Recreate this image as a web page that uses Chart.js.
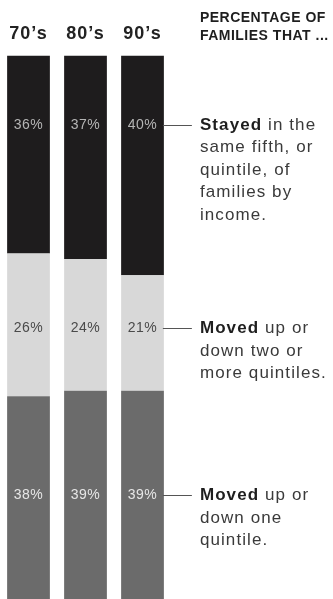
<!DOCTYPE html>
<html>
<head>
<meta charset="utf-8">
<script src="https://cdn.jsdelivr.net/npm/chart.js@4"></script>
<style>
  html, body { margin: 0; padding: 0; background: #fff; overflow: hidden; }
  #wrap { position: relative; width: 333px; height: 605px; }
</style>
</head>
<body>
<div id="wrap"><canvas id="mobilityChart"></canvas></div>
<script>
// decades (x axis)
const decades = ["70’s", "80’s", "90’s"];

// percentage of families, bottom segment first
const movedOne = [38, 39, 39];   // moved up or down one quintile
const movedTwo = [26, 24, 21];   // moved up or down two or more quintiles
const stayed = [36, 37, 40];     // stayed in the same quintile

// notes next to the bars (first word bold)
const noteLead = ["Moved", "Moved", "Stayed"];
const noteLines = [
    [" up or", "down one", "quintile."],
    [" up or", "down two or", "more quintiles."],
    [" in the", "same fifth, or", "quintile, of", "families by", "income."],
];
const header = ["PERCENTAGE OF", "FAMILIES THAT ..."];

// where the % labels and the note lines sit, in axis units (0 = bottom, 100 = top)
const labelLevels = [20, 50.4, 87.4];
const labelColors = ["#e6e6e6", "#4a4a4a", "#b5b5b5"];

const annotate = {
    id: "annotate",
    beforeDraw(chart) {
        // loose newsprint tracking for the axis labels
        chart.ctx.letterSpacing = "1px";
    },
    afterDatasetsDraw(chart) {
        const ctx = chart.ctx;
        const y = chart.scales.y;
        ctx.save();
        let textX = 0;
        chart.data.datasets.forEach((ds, i) => {
            const meta = chart.getDatasetMeta(i);
            const yPos = y.getPixelForValue(labelLevels[i]);
            // percent labels inside the bars
            ctx.letterSpacing = "0.5px";
            ctx.font = "14px 'Liberation Sans', Arial, sans-serif";
            ctx.fillStyle = labelColors[i];
            ctx.textAlign = "center";
            ctx.textBaseline = "middle";
            meta.data.forEach((bar, j) => {
                ctx.fillText(ds.data[j] + "%", bar.x, yPos);
            });
            // leader line
            const last = meta.data[meta.data.length - 1];
            const x0 = last.x + last.width / 2 - 1;
            ctx.strokeStyle = "#555";
            ctx.lineWidth = 1;
            ctx.beginPath();
            ctx.moveTo(x0, Math.round(yPos) + 0.5);
            ctx.lineTo(x0 + 29, Math.round(yPos) + 0.5);
            ctx.stroke();
            // note text
            textX = x0 + 37;
            ctx.textAlign = "left";
            ctx.textBaseline = "alphabetic";
            ctx.letterSpacing = "1.1px";
            const lines = noteLines[i];
            ctx.font = "bold 17px 'Liberation Sans', Arial, sans-serif";
            ctx.fillStyle = "#1e1e1e";
            ctx.fillText(noteLead[i], textX, yPos + 5);
            const leadW = ctx.measureText(noteLead[i]).width;
            ctx.font = "17px 'Liberation Sans', Arial, sans-serif";
            ctx.fillStyle = "#3a3a3a";
            ctx.fillText(lines[0], textX + leadW, yPos + 5);
            for (let k = 1; k < lines.length; k++) {
                ctx.fillText(lines[k], textX, yPos + 5 + k * 22.5);
            }
        });
        // header over the notes
        ctx.letterSpacing = "0.5px";
        ctx.font = "bold 14px 'Liberation Sans', Arial, sans-serif";
        ctx.fillStyle = "#1e1e1e";
        ctx.textAlign = "left";
        ctx.textBaseline = "alphabetic";
        header.forEach((t, k) => ctx.fillText(t, textX, 22 + k * 18));
        ctx.restore();
    }
};

const context = document.querySelector("#mobilityChart").getContext("2d");
const mobilityChart = new Chart(context, {
    type: "bar",
    data: {
        labels: decades,
        datasets: [
            { label: "Moved up or down one quintile", data: movedOne, backgroundColor: "#6b6b6b" },
            { label: "Moved up or down two or more quintiles", data: movedTwo, backgroundColor: "#d8d8d8" },
            { label: "Stayed in the same quintile", data: stayed, backgroundColor: "#1e1c1d" },
        ],
    },
    options: {
        responsive: true,
        maintainAspectRatio: false,
        animation: false,
        layout: { padding: { left: 0, right: 162, top: 20, bottom: 0 } },
        datasets: {
            bar: { barPercentage: 0.75, categoryPercentage: 1, borderWidth: 0 }
        },
        scales: {
            x: {
                position: "top",
                stacked: true,
                grid: { display: false },
                border: { display: false },
                ticks: {
                    color: "#222",
                    padding: 3,
                    font: { family: "'Liberation Sans', Arial, sans-serif", size: 18, weight: "bold" }
                }
            },
            y: {
                stacked: true,
                display: false,
                min: 0,
                max: 100
            }
        },
        plugins: {
            legend: { display: false },
            tooltip: { enabled: false }
        }
    },
    plugins: [annotate]
});
</script>
</body>
</html>
